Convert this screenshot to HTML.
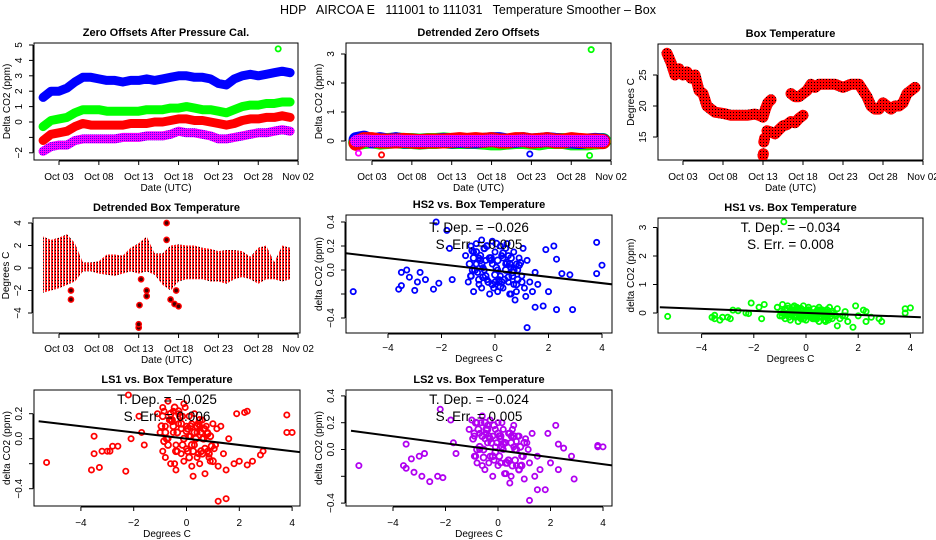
<!DOCTYPE html>
<html><head><meta charset="utf-8"><title>HDP AIRCOA E Temperature Smoother - Box</title>
<style>
html,body{margin:0;padding:0;background:#fff;}
svg{display:block;font-family:"Liberation Sans",Arial,sans-serif;}
</style></head>
<body>
<svg id="fig" width="936" height="540" viewBox="0 0 936 540" xmlns="http://www.w3.org/2000/svg">
<defs>
<pattern id="chk" width="3" height="3" patternUnits="userSpaceOnUse">
<rect width="3" height="3" fill="#ff0000"/><rect x="1" y="1" width="1" height="1" fill="#000"/>
</pattern>
<pattern id="chk2" width="3" height="3" patternUnits="userSpaceOnUse">
<rect width="3" height="3" fill="#ff2020"/><rect x="1" y="1" width="1" height="1" fill="#000"/><rect x="2" y="0" width="1" height="3" fill="#fff"/>
</pattern>
<pattern id="pchk" width="2" height="2" patternUnits="userSpaceOnUse">
<rect width="2" height="2" fill="#ff00ff"/><rect width="1" height="1" fill="#5000ff"/>
</pattern>
</defs>
<text x="468" y="14" text-anchor="middle" font-size="12.5" xml:space="preserve" style="white-space:pre">HDP   AIRCOA E   111001 to 111031   Temperature Smoother – Box</text>
</svg>
<script>
// ---------- data ----------
const days = [1,2,3,4,5,6,7,8,9,10,11,12,13,14,15,16,17,18,19,20,21,22,23,24,25,26,27,28,29,30,31,32];
const zoBlue  = [1.6,2.0,2.0,2.2,2.6,2.9,2.9,2.8,2.7,2.7,2.6,2.7,2.7,2.8,2.7,2.8,2.9,3.0,3.0,2.9,2.9,2.8,2.5,2.4,2.8,3.0,3.1,3.0,3.1,3.2,3.3,3.2];
const zoGreen = [-0.3,0.1,0.2,0.3,0.6,0.8,0.8,0.8,0.7,0.7,0.7,0.7,0.7,0.8,0.8,0.8,0.9,0.9,1.0,0.9,0.8,0.8,0.7,0.6,0.8,1.0,1.1,1.1,1.2,1.2,1.3,1.3];
const zoRed   = [-1.2,-0.8,-0.7,-0.6,-0.3,-0.1,-0.2,-0.2,-0.2,-0.2,-0.2,-0.1,-0.1,-0.1,0,0,0.1,0.2,0.2,0.1,0.1,0,-0.1,-0.2,-0.1,0.1,0.2,0.2,0.3,0.3,0.4,0.3];
const zoPurple= [-1.9,-1.6,-1.5,-1.5,-1.2,-1.1,-1.1,-1.1,-1.1,-1.1,-1.0,-1.0,-1.0,-0.9,-0.9,-0.9,-0.8,-0.6,-0.7,-0.7,-0.8,-0.9,-1.1,-1.1,-1.0,-0.9,-0.8,-0.7,-0.7,-0.6,-0.5,-0.6];
const zoOutlierDay = [30.5];
const zoOutlierVal = [4.75];

const dzGreen = [-0.05,0.0,0.02,-0.02,0.0,0.02,0.0,0.0,-0.02,0.0,0.0,0.02,0.0,0.0,0.0,0.0,-0.02,-0.05,-0.05,-0.02,0.0,0.0,-0.02,-0.05,0.0,0.0,0.0,-0.05,-0.05,-0.05,-0.02,0.0];
const dzBlue  = [0.05,0.1,0.0,0.05,0.0,0.05,0.0,0.0,-0.02,0.0,0.0,0.02,0.0,0.02,0.0,0.0,0.02,0.05,0.05,0.0,0.02,0.05,0.0,0.02,0.05,0.02,0.0,0.0,-0.02,0.0,0.02,0.0];
const dzRed   = [-0.08,0.05,0.05,0.0,0.0,0.0,0.02,0.0,-0.02,0.0,0.0,0.0,0.02,0.05,0.02,0.05,0.02,0.05,0.0,0.0,0.05,0.05,0.0,0.02,0.05,0.0,0.0,0.05,0.02,0.0,0.0,-0.02];
const dzPurple= [0.0,0.02,0.0,0.0,0.0,0.02,0.0,0.0,0.0,0.0,0.0,0.0,0.0,0.0,0.0,0.0,0.0,0.02,0.0,0.0,0.0,0.02,0.0,0.0,0.02,0.0,0.0,0.0,0.0,0.0,0.0,0.0];
const dzOutDay = [30.5,30.3,22.8,4.2,1.3];
const dzOutVal = [3.15,-0.5,-0.45,-0.48,-0.42];
const dzOutCol = ["#00ff00","#00ff00","#0000ff","#ff0000","#ff00ff"];

const btDays = [1,1.5,2,2.5,3,3.5,4,4.5,5,5.5,6,6.5,7,8,9,10,11,12,12.5,13,13.3,13.6,14,null,13.0,13.05,null,13.1,13.2,null,13.5,14,14.5,15,15.5,16,16.5,17,17.5,18,null,16.5,17,17.5,18,18.5,19,19.5,20,21,22,23,24,25,25.5,26,26.5,27,27.5,28,28.5,29,29.5,30,30.5,31,31.5,32];
const btTemp = [28.5,27,25,26,25,25.5,24.5,25,22.5,22,20,19.5,19,18.8,18.5,18.5,18.5,18.7,18.5,18.2,19.5,20.5,21,null,12,12.3,null,14.2,14.8,null,16,15.8,15.5,16.2,16.8,17,17.5,17.3,18,18.5,null,22,21.5,21.5,22,22.5,23.5,23,23.5,23.5,23.5,23,23.5,23.5,22.5,21.5,20,19.5,19.5,20.5,20,19.5,20,20,20.5,22,22.5,23];

const dbHi = [2.8,2.5,2.7,3.0,2.2,0.5,0.5,0.6,1.2,1.2,1.1,1.8,2.2,2.8,1.3,1.3,2.0,2.1,2.0,2.0,1.8,1.7,1.5,1.6,1.6,1.5,1.0,1.8,2.0,0.5,2.0,1.8];
const dbLo = [-2.2,-2.0,-1.8,-1.5,-1.2,-0.3,-0.3,-0.5,-0.6,-0.7,-0.5,-0.3,-0.5,-0.3,-0.6,-1.5,-2.0,-1.2,-1.0,-1.0,-1.0,-1.2,-1.2,-1.4,-1.0,-0.8,-1.0,-1.4,-1.0,-1.0,-1.2,-1.0];
const dbSpikeDay = [4.5,4.5,13,13,13.1,13.3,14,14,16.5,16.5,17,17.5,18,17.7];
const dbSpikeVal = [-2.0,-2.8,-5.3,-5.0,-3.3,-1.0,-2.5,-2.0,4.0,2.5,-2.8,-3.2,-3.4,-2.0];

const tempX = [-1.1,-1.0,-0.9,-0.9,-0.8,-0.8,-0.7,-0.7,-0.6,-0.6,
 -0.5,-0.5,-0.4,-0.4,-0.3,-0.3,-0.2,-0.2,-0.1,-0.1,
 0.0,0.0,0.1,0.1,0.2,0.2,0.3,0.3,0.4,0.4,
 0.5,0.5,0.6,0.6,0.7,0.7,0.8,0.8,0.9,1.0,
 1.1,1.2,1.3,1.4,1.5,1.6,-0.65,-0.35,-0.05,0.25,
 0.55,0.85,1.15,-0.45,-0.15,0.15,0.45,0.75,-0.85,1.05,
 -5.3,-3.6,-3.5,-3.5,-3.3,-3.2,-3.0,-2.9,-2.8,-2.6,
 -2.3,-2.2,-2.1,-1.8,-1.7,-1.6,1.8,1.9,2.0,2.2,
 2.3,2.3,2.5,2.8,2.9,3.8,3.8,4.0,1.2,1.5];
const yHS2 = [0.12,-0.1,0.2,-0.05,0.15,-0.18,0.05,0.22,-0.12,0.1,
 0.25,-0.15,0.0,0.18,-0.08,0.2,0.1,-0.2,0.05,0.24,
 -0.1,0.15,0.0,-0.18,0.2,-0.05,0.1,-0.15,0.05,0.18,
 -0.1,0.12,-0.2,0.02,0.15,-0.12,0.05,-0.18,0.1,-0.05,
 -0.15,0.08,-0.1,-0.18,-0.02,-0.12,-0.02,0.08,-0.15,0.12,
 -0.2,0.0,-0.22,0.02,0.08,-0.08,0.22,-0.25,0.0,0.18,
 -0.18,-0.16,-0.02,-0.13,0.0,-0.06,-0.17,-0.1,-0.02,-0.08,
 -0.16,0.4,-0.11,0.33,0.18,-0.08,-0.3,0.17,-0.18,0.2,
 -0.33,0.09,-0.03,-0.04,-0.33,0.23,-0.03,0.04,-0.48,-0.31];
const yHS1 = [0.2,-0.1,0.3,0.0,0.15,-0.2,0.25,-0.05,0.1,-0.25,
 0.2,0.05,-0.15,0.1,-0.3,0.15,0.0,-0.2,0.25,-0.1,
 0.1,-0.25,0.05,0.2,-0.15,0.0,0.15,-0.2,0.05,-0.1,
 0.2,-0.3,0.1,-0.15,0.0,-0.25,0.12,-0.1,0.2,-0.2,
 -0.05,0.15,-0.2,-0.1,0.05,-0.3,-0.15,0.2,0.0,-0.2,
 0.1,-0.25,-0.1,0.25,-0.15,0.05,-0.05,-0.3,3.2,0.0,
 -0.12,-0.15,-0.08,-0.2,-0.25,-0.15,-0.15,-0.2,0.1,0.08,
 0.0,-0.02,0.35,0.2,-0.2,0.3,-0.5,0.25,-0.1,0.1,
 -0.3,0.05,-0.15,-0.2,-0.3,0.15,0.0,0.18,-0.45,-0.1];
const yLS1 = [0.2,0.05,-0.1,0.25,0.1,-0.15,0.3,0.0,-0.2,0.15,
 0.05,0.22,-0.05,-0.25,0.12,0.2,-0.12,0.08,0.28,-0.18,
 0.1,-0.08,0.18,0.02,-0.22,0.12,-0.05,0.2,-0.15,0.05,
 0.1,-0.2,0.0,0.15,-0.28,0.08,-0.1,0.05,-0.18,0.12,
 -0.05,-0.22,0.1,-0.12,-0.25,0.0,0.15,-0.1,0.25,-0.3,
 0.05,-0.15,0.08,-0.2,0.18,0.02,-0.12,0.1,0.22,-0.08,
 -0.19,-0.25,0.02,-0.12,-0.23,-0.1,-0.1,-0.1,-0.06,-0.06,
 -0.26,0.35,0.0,0.18,0.05,-0.05,-0.2,0.2,-0.18,0.21,
 -0.21,0.22,-0.18,-0.13,-0.1,0.19,0.05,0.05,-0.5,-0.48];
const yLS2 = [0.15,0.22,-0.05,0.1,-0.1,0.2,0.0,0.12,0.25,-0.12,
 0.08,-0.15,0.18,0.05,0.22,-0.05,0.1,-0.2,0.15,0.02,
 -0.12,0.2,0.08,-0.1,0.0,0.15,-0.18,0.05,-0.08,0.12,
 0.1,-0.2,0.02,0.18,-0.12,0.06,-0.15,0.1,-0.05,-0.22,
 0.05,-0.1,0.12,-0.2,-0.05,-0.15,0.2,-0.1,0.05,-0.18,
 0.15,-0.12,0.0,0.12,-0.08,0.2,-0.25,0.1,-0.05,0.08,
 -0.12,-0.12,0.04,-0.14,-0.07,-0.17,-0.05,-0.2,-0.03,-0.24,
 -0.2,0.3,-0.21,0.22,0.05,-0.03,-0.3,0.12,-0.1,0.18,
 -0.15,0.04,0.01,-0.05,-0.22,0.02,0.03,0.02,-0.38,-0.3];
// second, denser cloud near the centre (temperature and per-series offsets)
const coreX = [-0.95,-0.75,-0.55,-0.35,-0.15,0.05,0.25,0.45,0.65,0.85,
 -0.9,-0.7,-0.5,-0.3,-0.1,0.1,0.3,0.5,0.7,0.9,
 -0.8,-0.6,-0.4,-0.2,0.0,0.2,0.4,0.6,0.8,1.0,
 -0.85,-0.55,-0.25,0.05,0.35,0.65,0.95,-0.45,0.15,0.55];
const coreHS2 = [0.05,0.0,0.12,-0.05,0.1,0.02,-0.1,0.06,-0.02,-0.08,
 -0.05,0.15,0.05,0.2,-0.12,0.08,0.14,-0.06,0.0,0.04,
 0.1,-0.08,0.18,0.1,-0.04,-0.14,0.0,0.1,-0.12,-0.1,
 0.16,0.08,-0.1,0.22,-0.08,-0.05,0.06,-0.06,-0.1,0.05];
const coreHS1 = [0.05,-0.05,0.1,-0.1,0.0,0.05,-0.15,0.1,-0.05,0.0,
 -0.1,0.15,0.0,0.05,-0.2,0.1,0.0,-0.1,0.05,-0.15,
 0.1,0.0,-0.05,0.15,-0.1,0.0,-0.2,0.1,-0.05,0.05,
 0.0,0.1,-0.1,0.05,-0.15,0.0,-0.1,0.05,-0.05,0.1];
const coreLS1 = [0.1,0.0,0.15,0.05,-0.05,0.08,-0.1,0.12,0.0,-0.12,
 0.18,-0.05,0.1,0.22,0.0,-0.15,0.05,0.15,-0.08,0.02,
 0.05,0.2,-0.1,0.12,0.06,-0.05,0.1,-0.12,0.04,-0.18,
 -0.02,0.14,0.18,-0.1,0.0,0.08,-0.06,0.25,0.1,-0.1];
const coreLS2 = [0.08,0.15,0.0,0.1,0.18,-0.05,0.05,0.12,-0.08,0.02,
 0.12,0.02,0.2,0.08,-0.02,0.1,-0.1,0.05,0.0,-0.12,
 0.0,0.1,0.15,-0.05,0.12,0.04,-0.08,0.1,-0.15,0.05,
 0.2,-0.06,0.05,0.1,-0.1,0.0,-0.05,0.15,0.02,-0.12];
const fitHS2 = [0.14,-0.12];
const fitHS1 = [0.2,-0.15];
const fitLS1 = [0.14,-0.11];
const fitLS2 = [0.14,-0.12];
const fitX = [-5.6,4.4];
const dateTicks = [3,8,13,18,23,28,33];
const dateLabels = ["Oct 03","Oct 08","Oct 13","Oct 18","Oct 23","Oct 28","Nov 02"];
const degTicks = [-4,-2,0,2,4];
const degLabels = ["\u22124","\u22122","0","2","4"];

// ---------- helpers ----------
const NS = "http://www.w3.org/2000/svg";
const fig = document.getElementById("fig");
function mk(tag, attrs, name, parent) {
  const e = document.createElementNS(NS, tag);
  for (const k in attrs) e.setAttribute(k, attrs[k]);
  
  
  (parent || fig).appendChild(e);
  return e;
}
function txt(x, y, s, size, name, extra, parent) {
  const a = Object.assign({x: x, y: y, "font-size": size, "text-anchor": "middle", fill: "#000"}, extra || {});
  const t = mk("text", a, name, parent);
  t.textContent = s;
  return t;
}
function panel(p) {
  const g = mk("g", {}, p.name);
  p.g = g;
  p.sx = v => p.x0 + (v - p.xv0) * p.xs;
  p.sy = v => p.y0 - (v - p.yv0) * p.ys;
  mk("rect", {x: p.L, y: p.T, width: p.R - p.L, height: p.B - p.T, fill: "none", stroke: "#000", "stroke-width": 1}, "plot-box", g);
  txt((p.L + p.R) / 2, p.T - 7, p.title, 11, "panel-title", {"font-weight": "bold"}, g);
  const xt = p.xticks;
  mk("line", {x1: p.sx(xt[0]), x2: p.sx(xt[xt.length - 1]), y1: p.B + 1, y2: p.B + 1, stroke: "#000"}, "x-axis-line", g);
  xt.forEach((v, i) => {
    const x = p.sx(v);
    mk("line", {x1: x, x2: x, y1: p.B + 1, y2: p.B + 5, stroke: "#000"}, "x-tick", g);
    txt(x, p.B + p.xlo, p.xlabels[i], 10, "x-tick-label", {}, g);
  });
  txt((p.L + p.R) / 2, p.B + p.xlo + 11, p.xtitle, 10, "x-axis-title", {}, g);
  const yt = p.yticks;
  mk("line", {x1: p.L - 1, x2: p.L - 1, y1: p.sy(yt[0]), y2: p.sy(yt[yt.length - 1]), stroke: "#000"}, "y-axis-line", g);
  yt.forEach((v, i) => {
    const y = p.sy(v);
    mk("line", {x1: p.L - 1, x2: p.L - 5, y1: y, y2: y, stroke: "#000"}, "y-tick", g);
    if (p.ylabels[i] !== "") {
      const lx = p.L - 12;
      txt(lx, y, p.ylabels[i], 10, "y-tick-label", {transform: "rotate(-90 " + lx + " " + y + ")"}, g);
    }
  });
  const ty = (p.T + p.B) / 2, tx = p.L - 24;
  txt(tx, ty, p.ytitle, 10, "y-axis-title", {transform: "rotate(-90 " + tx + " " + ty + ")"}, g);
  const cp = mk("clipPath", {id: "clip-" + p.name}, "clip", g);
  mk("rect", {x: p.L, y: p.T, width: p.R - p.L, height: p.B - p.T}, "clip-rect", cp);
  p.d = mk("g", {"clip-path": "url(#clip-" + p.name + ")"}, "data-layer", g);
  return p;
}
function band(p, xs, ys, color, w, name) {
  let segs = [], cur = [];
  xs.forEach((x, i) => {
    if (x === null || ys[i] === null) { if (cur.length) segs.push(cur); cur = []; }
    else cur.push(p.sx(x).toFixed(1) + "," + p.sy(ys[i]).toFixed(1));
  });
  if (cur.length) segs.push(cur);
  segs.forEach(s => {
    if (s.length === 1) s.push(s[0]);
    mk("polyline", {points: s.join(" "), fill: "none", stroke: color, "stroke-width": w, "stroke-linejoin": "round", "stroke-linecap": "round"}, name, p.d);
  });
}
function pts(p, xs, ys, color, name, r) {
  xs.forEach((x, i) => {
    mk("circle", {cx: p.sx(x), cy: p.sy(ys[i]), r: r || 2.6, fill: "none", stroke: color, "stroke-width": 1.8}, name, p.d);
  });
}

// ---------- panel 1 ----------
const p1 = panel({name: "zero-offsets-panel", title: "Zero Offsets After Pressure Cal.", L: 34, R: 298, T: 43, B: 160,
  x0: 59, xv0: 3, xs: 7.97, y0: 122, yv0: 0, ys: 15.4, xticks: dateTicks, xlabels: dateLabels, xlo: 20, xtitle: "Date (UTC)",
  yticks: [-2,-1,0,1,2,3,4,5], ylabels: ["\u22122","","0","1","2","3","4","5"], ytitle: "Delta CO2 (ppm)"});
band(p1, days, zoBlue, "#0000ff", 9, "hs2-series");
band(p1, days, zoGreen, "#00ff00", 9, "hs1-series");
band(p1, days, zoRed, "#ff0000", 9, "ls1-series");
band(p1, days, zoPurple, "url(#pchk)", 9, "ls2-series");
pts(p1, zoOutlierDay, zoOutlierVal, "#00ff00", "hs1-outlier");

// ---------- panel 2 ----------
const p2 = panel({name: "detrended-zero-offsets-panel", title: "Detrended Zero Offsets", L: 346, R: 611, T: 43, B: 160,
  x0: 372, xv0: 3, xs: 7.97, y0: 141, yv0: 0, ys: 29, xticks: dateTicks, xlabels: dateLabels, xlo: 20, xtitle: "Date (UTC)",
  yticks: [0,1,2,3], ylabels: ["0","1","2","3"], ytitle: "Delta CO2 (ppm)"});
band(p2, days, dzGreen, "#00ff00", 16, "hs1-detrended");
band(p2, days, dzBlue, "#0000ff", 15, "hs2-detrended");
band(p2, days, dzRed, "#ff0000", 15, "ls1-detrended");
band(p2, days, dzPurple, "url(#pchk)", 12, "ls2-detrended");
dzOutDay.forEach((d, i) => pts(p2, [d], [dzOutVal[i]], dzOutCol[i], "detrended-outlier"));

// ---------- panel 3 ----------
const p3 = panel({name: "box-temperature-panel", title: "Box Temperature", L: 658, R: 923, T: 44, B: 160,
  x0: 683, xv0: 3, xs: 8, y0: 106, yv0: 20, ys: 6.2, xticks: dateTicks, xlabels: dateLabels, xlo: 20, xtitle: "Date (UTC)",
  yticks: [15,20,25], ylabels: ["15","20","25"], ytitle: "Degrees C"});
band(p3, btDays, btTemp, "url(#chk)", 11, "box-temperature-series");

// ---------- panel 4 ----------
const p4 = panel({name: "detrended-box-temperature-panel", title: "Detrended Box Temperature", L: 33, R: 300, T: 218, B: 333,
  x0: 59, xv0: 3, xs: 7.97, y0: 268, yv0: 0, ys: 11.25, xticks: dateTicks, xlabels: dateLabels, xlo: 19, xtitle: "Date (UTC)",
  yticks: [-4,-2,0,2,4], ylabels: ["\u22124","\u22122","0","2","4"], ytitle: "Degrees C"});
{
  const up = days.map((d, i) => p4.sx(d).toFixed(1) + "," + p4.sy(dbHi[i]).toFixed(1));
  const dn = days.map((d, i) => p4.sx(d).toFixed(1) + "," + p4.sy(dbLo[i]).toFixed(1)).reverse();
  mk("polygon", {points: up.concat(dn).join(" "), fill: "url(#chk2)", stroke: "none"}, "detrended-temp-band", p4.d);
  dbSpikeDay.forEach((d, i) => {
    mk("circle", {cx: p4.sx(d), cy: p4.sy(dbSpikeVal[i]), r: 2.6, fill: "#400", stroke: "#ff0000", "stroke-width": 1.5}, "temp-spike", p4.d);
  });
}

// ---------- scatter panels ----------
function scatter(cfg, ys, cys, fit, color, tdep, serr) {
  const p = panel(cfg);
  pts(p, coreX, cys, color, "scatter-point", 3);
  pts(p, tempX, ys, color, "scatter-point", 2.6);
  mk("line", {x1: p.sx(fitX[0]), y1: p.sy(fit[0]), x2: p.sx(fitX[1]), y2: p.sy(fit[1]), stroke: "#000", "stroke-width": 2}, "regression-line", p.d);
  const cx = (p.L + p.R) / 2;
  txt(cx, p.T + cfg.t1, "T. Dep. =  " + tdep, 13.5, "temp-dependence-label", {"xml:space": "preserve"}, p.g);
  txt(cx, p.T + cfg.t1 + 17, "S. Err. =  " + serr, 13.5, "std-error-label", {}, p.g);
  return p;
}
scatter({name: "hs2-vs-box-temp-panel", title: "HS2 vs. Box Temperature", L: 346, R: 612, T: 215, B: 333,
  x0: 495, xv0: 0, xs: 26.75, y0: 270, yv0: 0, ys: 120, xticks: degTicks, xlabels: degLabels, xlo: 18, xtitle: "Degrees C",
  yticks: [-0.4,-0.2,0,0.2,0.4], ylabels: ["\u22120.4","","0.0","0.2","0.4"], ytitle: "delta CO2 (ppm)", t1: 17},
  yHS2, coreHS2, fitHS2, "#0000ff", "\u22120.026", "0.005");
scatter({name: "hs1-vs-box-temp-panel", title: "HS1 vs. Box Temperature", L: 658, R: 923, T: 218, B: 333,
  x0: 806, xv0: 0, xs: 26.1, y0: 313, yv0: 0, ys: 28.5, xticks: degTicks, xlabels: degLabels, xlo: 18, xtitle: "Degrees C",
  yticks: [0,1,2,3], ylabels: ["0","1","2","3"], ytitle: "delta CO2 (ppm)", t1: 14},
  yHS1, coreHS1, fitHS1, "#00ff00", "\u22120.034", "0.008");
scatter({name: "ls1-vs-box-temp-panel", title: "LS1 vs. Box Temperature", L: 34, R: 300, T: 390, B: 506,
  x0: 186.5, xv0: 0, xs: 26.4, y0: 438.7, yv0: 0, ys: 125, xticks: degTicks, xlabels: degLabels, xlo: 20, xtitle: "Degrees C",
  yticks: [-0.4,-0.2,0,0.2], ylabels: ["\u22120.4","","0.0","0.2"], ytitle: "delta CO2 (ppm)", t1: 14},
  yLS1, coreLS1, fitLS1, "#ff0000", "\u22120.025", "0.006");
scatter({name: "ls2-vs-box-temp-panel", title: "LS2 vs. Box Temperature", L: 346, R: 612, T: 390, B: 506,
  x0: 498, xv0: 0, xs: 26.25, y0: 449.5, yv0: 0, ys: 134, xticks: degTicks, xlabels: degLabels, xlo: 20, xtitle: "Degrees C",
  yticks: [-0.4,-0.2,0,0.2,0.4], ylabels: ["\u22120.4","","0.0","0.2","0.4"], ytitle: "delta CO2 (ppm)", t1: 14},
  yLS2, coreLS2, fitLS2, "#b000f0", "\u22120.024", "0.005");
</script>
</body></html>
